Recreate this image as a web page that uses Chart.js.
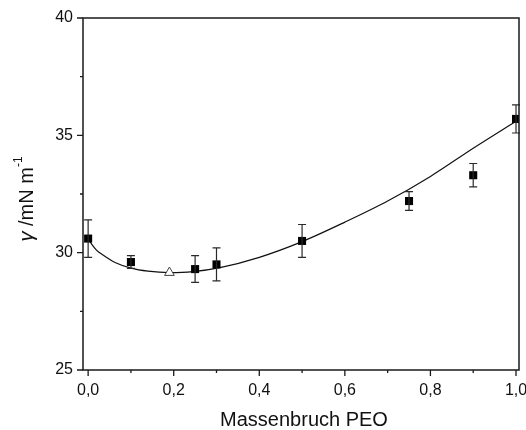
<!DOCTYPE html>
<html>
<head>
<meta charset="utf-8">
<script src="https://cdn.jsdelivr.net/npm/chart.js@4.4.1/dist/chart.umd.min.js"></script>
<style>
  html, body { margin: 0; padding: 0; background: #fff; }
  #wrap { width: 526px; height: 430px; position: relative; }
</style>
</head>
<body>
<div id="wrap"><canvas id="chart"></canvas></div>
<script>
// measured points (mass fraction PEO vs surface tension)
const massFraction = [0, 0.1, 0.25, 0.3, 0.5, 0.75, 0.9, 1.0];
const gammaValues = [30.6, 29.6, 29.3, 29.5, 30.5, 32.2, 33.3, 35.7];
const gammaErrors = [0.8, 0.27, 0.57, 0.7, 0.7, 0.4, 0.5, 0.6];

// single open-triangle point
const triangleX = [0.19];
const triangleY = [29.15];

// fitted curve
const curveX = [0, 0.009, 0.02, 0.033, 0.063, 0.1, 0.14, 0.19, 0.245, 0.308, 0.4, 0.5, 0.6, 0.7, 0.8, 0.9, 1.0];
const curveY = [30.6, 30.34, 30.1, 29.92, 29.58, 29.34, 29.21, 29.15, 29.19, 29.36, 29.8, 30.47, 31.3, 32.2, 33.25, 34.45, 35.6];

// axis ticks
const xMajorTicks = [0, 0.2, 0.4, 0.6, 0.8, 1.0];
const xMinorTicks = [0.1, 0.3, 0.5, 0.7, 0.9];
const yMajorTicks = [25, 30, 35, 40];
const yMinorTicks = [27.5, 32.5, 37.5];

const toPoints = (xs, ys) => xs.map((x, i) => ({ x: x, y: ys[i] }));

const axisPlugin = {
  id: 'axisPlugin',
  afterDatasetsDraw(chart) {
    const ctx = chart.ctx;
    const xs = chart.scales.x;
    const ys = chart.scales.y;

    // error bars
    ctx.save();
    ctx.strokeStyle = '#2a2a2a';
    ctx.lineWidth = 1.2;
    massFraction.forEach((x, i) => {
      const px = xs.getPixelForValue(x);
      const top = ys.getPixelForValue(gammaValues[i] + gammaErrors[i]);
      const bot = ys.getPixelForValue(gammaValues[i] - gammaErrors[i]);
      ctx.beginPath();
      ctx.moveTo(px, top); ctx.lineTo(px, bot);
      ctx.moveTo(px - 4, top); ctx.lineTo(px + 4, top);
      ctx.moveTo(px - 4, bot); ctx.lineTo(px + 4, bot);
      ctx.stroke();
    });
    ctx.restore();
  },
  afterDraw(chart) {
    const ctx = chart.ctx;
    const xs = chart.scales.x;
    const ys = chart.scales.y;
    const a = chart.chartArea;
    ctx.save();
    ctx.strokeStyle = '#1a1a1a';
    ctx.lineWidth = 1.5;
    ctx.strokeRect(a.left, a.top, a.right - a.left, a.bottom - a.top);

    // outward ticks
    ctx.lineWidth = 1.3;
    ctx.beginPath();
    xMajorTicks.forEach(v => { const p = xs.getPixelForValue(v); ctx.moveTo(p, a.bottom); ctx.lineTo(p, a.bottom + 6); });
    xMinorTicks.forEach(v => { const p = xs.getPixelForValue(v); ctx.moveTo(p, a.bottom); ctx.lineTo(p, a.bottom + 3); });
    yMajorTicks.forEach(v => { const p = ys.getPixelForValue(v); ctx.moveTo(a.left, p); ctx.lineTo(a.left - 6, p); });
    yMinorTicks.forEach(v => { const p = ys.getPixelForValue(v); ctx.moveTo(a.left, p); ctx.lineTo(a.left - 3, p); });
    ctx.stroke();

    // x title
    ctx.fillStyle = '#111';
    ctx.font = '20px "Liberation Sans", Arial, sans-serif';
    ctx.textAlign = 'center';
    ctx.textBaseline = 'middle';
    ctx.fillText('Massenbruch PEO', (a.left + a.right) / 2 + 3, 420);

    // y title, rotated
    ctx.translate(27, 199);
    ctx.rotate(-Math.PI / 2);
    const f1 = 'italic 20px "Liberation Sans", Arial, sans-serif';
    const f2 = '20px "Liberation Sans", Arial, sans-serif';
    const f3 = '12px "Liberation Sans", Arial, sans-serif';
    const parts = [['\u03b3', f1, 0], [' /mN m', f2, 0], ['-1', f3, -8]];
    let total = 0;
    parts.forEach(p => { ctx.font = p[1]; total += ctx.measureText(p[0]).width; });
    let cx = -total / 2;
    ctx.textAlign = 'left';
    parts.forEach(p => {
      ctx.font = p[1];
      ctx.fillText(p[0], cx, p[2]);
      cx += ctx.measureText(p[0]).width;
    });
    ctx.restore();
  }
};

new Chart(document.getElementById('chart'), {
  type: 'scatter',
  data: {
    datasets: [
      {
        label: 'Fit',
        type: 'line',
        data: toPoints(curveX, curveY),
        borderColor: '#111',
        borderWidth: 1.2,
        pointRadius: 0,
        cubicInterpolationMode: 'monotone',
        fill: false,
        order: 3
      },
      {
        label: 'Messwerte',
        data: toPoints(massFraction, gammaValues),
        pointStyle: 'rect',
        pointRadius: 5.7,
        backgroundColor: '#000',
        borderColor: '#000',
        borderWidth: 0,
        order: 1
      },
      {
        label: 'Extra',
        data: toPoints(triangleX, triangleY),
        pointStyle: 'triangle',
        pointRadius: 5.6,
        backgroundColor: '#fff',
        borderColor: '#444',
        borderWidth: 1,
        order: 2
      }
    ]
  },
  options: {
    responsive: true,
    maintainAspectRatio: false,
    animation: false,
    events: [],
    layout: { padding: { top: 18, right: 7, left: 0, bottom: 0 } },
    plugins: {
      legend: { display: false },
      tooltip: { enabled: false }
    },
    scales: {
      x: {
        type: 'linear',
        min: -0.012,
        max: 1.007,
        afterBuildTicks: axis => { axis.ticks = xMajorTicks.map(v => ({ value: v })); },
        afterFit: axis => { axis.height = 60; axis.paddingLeft = 0; axis.paddingRight = 0; },
        grid: { display: false, drawTicks: false },
        border: { display: false },
        ticks: {
          padding: 11,
          color: '#111',
          font: { family: '"Liberation Sans", Arial, sans-serif', size: 16 },
          callback: v => v.toFixed(1).replace('.', ',')
        }
      },
      y: {
        min: 25,
        max: 40,
        afterBuildTicks: axis => { axis.ticks = yMajorTicks.map(v => ({ value: v })); },
        afterFit: axis => { axis.width = 83; axis.paddingTop = 0; axis.paddingBottom = 0; },
        grid: { display: false, drawTicks: false },
        border: { display: false },
        ticks: {
          padding: 10,
          color: '#111',
          font: { family: '"Liberation Sans", Arial, sans-serif', size: 16 },
          callback: v => String(v)
        }
      }
    }
  },
  plugins: [axisPlugin]
});
</script>
</body>
</html>
